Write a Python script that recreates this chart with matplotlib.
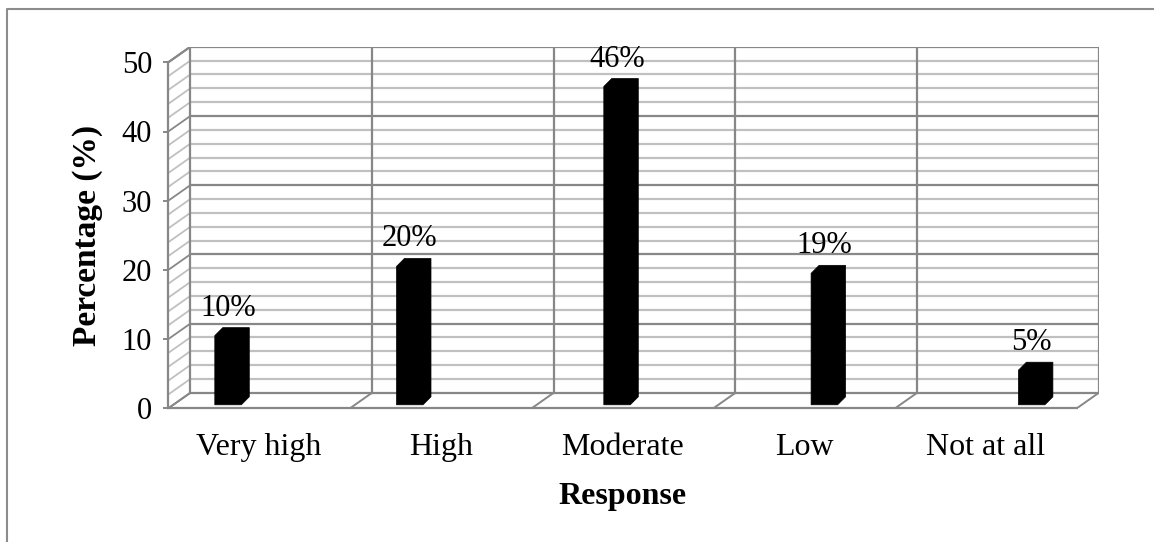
import matplotlib
matplotlib.use("Agg")
import matplotlib.pyplot as plt
from matplotlib.lines import Line2D
from matplotlib.patches import Polygon

# survey data
responses = ["Very high", "High", "Moderate", "Low", "Not at all"]
percent = [10, 20, 46, 19, 5]
cluster_slot = [0, 0, 1, 2, 3]      # column slot each bar takes inside its category
y_ticks = [0, 10, 20, 30, 40, 50]

MAJOR = "#878787"
MINOR = "#C0C0C0"
plt.rcParams.update({
    "font.family": ["Liberation Serif", "DejaVu Serif"],
    "font.size": 22,
    "text.color": "black",
})

W, H = 1154, 542
fig = plt.figure(figsize=(W / 100, H / 100), dpi=100)

# pseudo-3D geometry (pixels): width of one category, px per percent,
# and the depth shift from the front plane to the back wall
PX_CAT, PX_PCT = 181.7, 6.92
DEPTH_X, DEPTH_Y = 22, 15.5
YMAX = 50
ncat = len(responses)
DX, DY = DEPTH_X / PX_CAT, DEPTH_Y / PX_PCT

left_px, base_px = 168.3, 408.3
ax = fig.add_axes([left_px / W, (H - base_px) / H,
                   (ncat * PX_CAT + DEPTH_X) / W, (YMAX * PX_PCT + DEPTH_Y) / H])
ax.set_xlim(0, ncat + DX)
ax.set_ylim(0, YMAX + DY)
for s in ax.spines.values():
    s.set_visible(False)
ax.patch.set_visible(False)

# back wall + side wall gridlines every 2 %, darker every 10 %
for v in range(0, YMAX + 1, 2):
    col = MAJOR if v % 10 == 0 else MINOR
    ax.plot([DX, ncat + DX], [v + DY, v + DY], color=col, lw=1.6, zorder=1 if v % 10 else 2,
            solid_capstyle="butt")
    ax.plot([0, DX], [v, v + DY], color=col, lw=1.3, zorder=1 if v % 10 else 2)

# category dividers on the back wall and on the floor
for k in range(ncat + 1):
    ax.plot([k + DX, k + DX], [DY, YMAX + DY], color=MAJOR, lw=1.6, zorder=2)
    ax.plot([k, k + DX], [0, DY], color=MAJOR, lw=1.4, zorder=2)
ax.plot([0, ncat], [0, 0], color=MAJOR, lw=1.6, zorder=2, clip_on=False)
ax.plot([0, 0], [0, YMAX], color=MAJOR, lw=1.6, zorder=2, clip_on=False)
ax.plot([0, DX], [YMAX, YMAX + DY], color=MAJOR, lw=1.6, zorder=2)

# black columns with a small bevel showing top and side
OFFSET = 46.5 / PX_CAT
SLOT_W = 25.6 / PX_CAT
FACE_W = 26.5 / PX_CAT
BEV_X, BEV_Y = 8 / PX_CAT, 8 / PX_PCT
BASE = 3.5 / PX_PCT
for i, (v, j) in enumerate(zip(percent, cluster_slot)):
    x0 = i + OFFSET + j * SLOT_W
    top = BASE + v
    pts = [(x0, BASE), (x0, top), (x0 + BEV_X, top + BEV_Y),
           (x0 + FACE_W + BEV_X, top + BEV_Y), (x0 + FACE_W + BEV_X, BASE + BEV_Y),
           (x0 + FACE_W, BASE)]
    ax.add_patch(Polygon(pts, closed=True, facecolor="black", edgecolor="black",
                         lw=0.5, zorder=5))
    ax.annotate(f"{v}%", xy=(x0 + FACE_W / 2, top + BEV_Y), xytext=(0, 8.6),
                textcoords="offset points", ha="center", va="baseline", fontsize=22,
                zorder=6)

ax.set_yticks(y_ticks)
ax.set_xticks([k + 0.5 for k in range(ncat)])
ax.set_xticklabels(responses)
ax.tick_params(axis="y", length=3.6, width=1.4, color=MAJOR, pad=8, labelsize=22)
ax.tick_params(axis="x", length=0, pad=18, labelsize=23)

ax.text(-0.0863, 0.479, "Percentage (%)", transform=ax.transAxes, rotation=90,
        ha="center", va="center", fontsize=24, fontweight="bold")
ax.text(0.4876, -0.245, "Response", transform=ax.transAxes,
        ha="center", va="center", fontsize=23, fontweight="bold")

# chart frame (left and top edges)
fig.add_artist(Line2D([7 / W, 7 / W, 1.0], [0.0, 1 - 9 / H, 1 - 9 / H],
                      transform=fig.transFigure, color="#8C8C8C", lw=1.5))

fig.savefig("out.png", dpi=100, facecolor="white")
